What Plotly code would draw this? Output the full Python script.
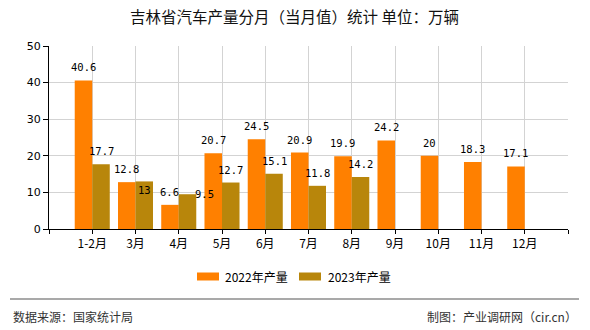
import plotly.graph_objects as go

# ---------------- data ----------------
months = ["1-2月", "3月", "4月", "5月", "6月", "7月", "8月", "9月", "10月", "11月", "12月"]
prod_2022 = [40.6, 12.8, 6.6, 20.7, 24.5, 20.9, 19.9, 24.2, 20, 18.3, 17.1]
prod_2023 = [17.7, 13, 9.5, 12.7, 15.1, 11.8, 14.2, None, None, None, None]
series_names = ["2022年产量", "2023年产量"]
y_ticks = [0, 10, 20, 30, 40, 50]

title_text = "吉林省汽车产量分月（当月值）统计 单位：万辆"
source_text = "数据来源：国家统计局"
maker_text = "制图：产业调研网（cir.cn）"

# ---------------- style ----------------
W, H = 590, 330
ML, MR, MT, MB = 49, 22, 46, 101
PW, PH = W - ML - MR, H - MT - MB
C22, C23 = "#FF8000", "#B8860B"
GRID = "#d3d3d3"
CJK = "Noto Sans CJK SC"
LABEL_FONT = dict(family="DejaVu Sans Mono", size=10.5, color="#000")


def px_x(x):
    return (x - ML) / PW


def px_y(y):
    return (MT + PH - y) / PH


x_idx = list(range(len(months)))

fig = go.Figure()
fig.add_trace(go.Bar(x=x_idx, y=prod_2022, name=series_names[0], marker_color=C22,
                     marker_line_width=0, showlegend=False))
fig.add_trace(go.Bar(x=x_idx, y=prod_2023, name=series_names[1], marker_color=C23,
                     marker_line_width=0, showlegend=False))

# value labels (label-collision nudges for a couple of points)
half = PW / 12 * 0.405 / 2
nudge = {(1, 1): (0, -22), (1, 2): (17, -13)}
annotations = []
for s, vals in enumerate([prod_2022, prod_2023]):
    for i, v in enumerate(vals):
        if v is None:
            continue
        dx, dy = nudge.get((s, i), (0, 0))
        annotations.append(dict(
            x=i, y=v, xref="x", yref="y", text=f"{v:g}", showarrow=False,
            xshift=(-half if s == 0 else half) + dx, yshift=13 + dy,
            yanchor="middle", xanchor="center", font=LABEL_FONT))

# custom legend
shapes = []
leg = [(197, 223, C22, series_names[0]), (299, 326, C23, series_names[1])]
for sx, tx, col, name in leg:
    shapes.append(dict(type="rect", xref="paper", yref="paper",
                       x0=px_x(sx), x1=px_x(sx + 22), y0=px_y(272.5), y1=px_y(280.5),
                       fillcolor=col, line_width=0))
    annotations.append(dict(x=px_x(tx), y=px_y(276.5), xref="paper", yref="paper",
                            text=name, showarrow=False, xanchor="left", yanchor="middle",
                            font=dict(family=CJK, size=12, color="#000")))

# separator and footer
shapes.append(dict(type="line", xref="paper", yref="paper",
                   x0=px_x(10), x1=px_x(579), y0=px_y(299), y1=px_y(299),
                   line=dict(color="#8c8c8c", width=1.5)))
annotations.append(dict(x=px_x(11), y=px_y(316), xref="paper", yref="paper", text=source_text,
                        showarrow=False, xanchor="left", yanchor="middle",
                        font=dict(family=CJK, size=12, color="#333")))
annotations.append(dict(x=px_x(579), y=px_y(316), xref="paper", yref="paper", text=maker_text,
                        showarrow=False, xanchor="right", yanchor="middle",
                        font=dict(family=CJK, size=12, color="#333")))

fig.update_layout(
    width=W, height=H,
    margin=dict(l=ML, r=MR, t=MT, b=MB, pad=0),
    paper_bgcolor="white", plot_bgcolor="white",
    barmode="group", bargap=0.19, bargroupgap=0,
    title=dict(text=title_text, x=294.5 / W, xref="container", xanchor="center",
               y=1 - 18 / H, yanchor="middle",
               font=dict(family=CJK, size=15.5, color="#111")),
    xaxis=dict(range=[-1, len(months)], tickmode="array",
               tickvals=list(range(-1, len(months) + 1)),
               ticktext=[""] + months + [""],
               showgrid=True, gridcolor=GRID, gridwidth=1,
               showline=True, linecolor="#000", linewidth=1,
               ticks="outside", ticklen=4, tickcolor="#000",
               zeroline=False, fixedrange=True,
               tickfont=dict(family=CJK, size=12, color="#000")),
    yaxis=dict(range=[0, 50], tickmode="array", tickvals=y_ticks,
               showgrid=True, gridcolor=GRID, gridwidth=1,
               showline=True, linecolor="#000", linewidth=1,
               ticks="outside", ticklen=5, tickcolor="#000",
               zeroline=False, fixedrange=True,
               tickfont=dict(family="DejaVu Sans", size=11, color="#000")),
    shapes=shapes,
    annotations=annotations,
    showlegend=False,
)

fig.write_html("out.html")
